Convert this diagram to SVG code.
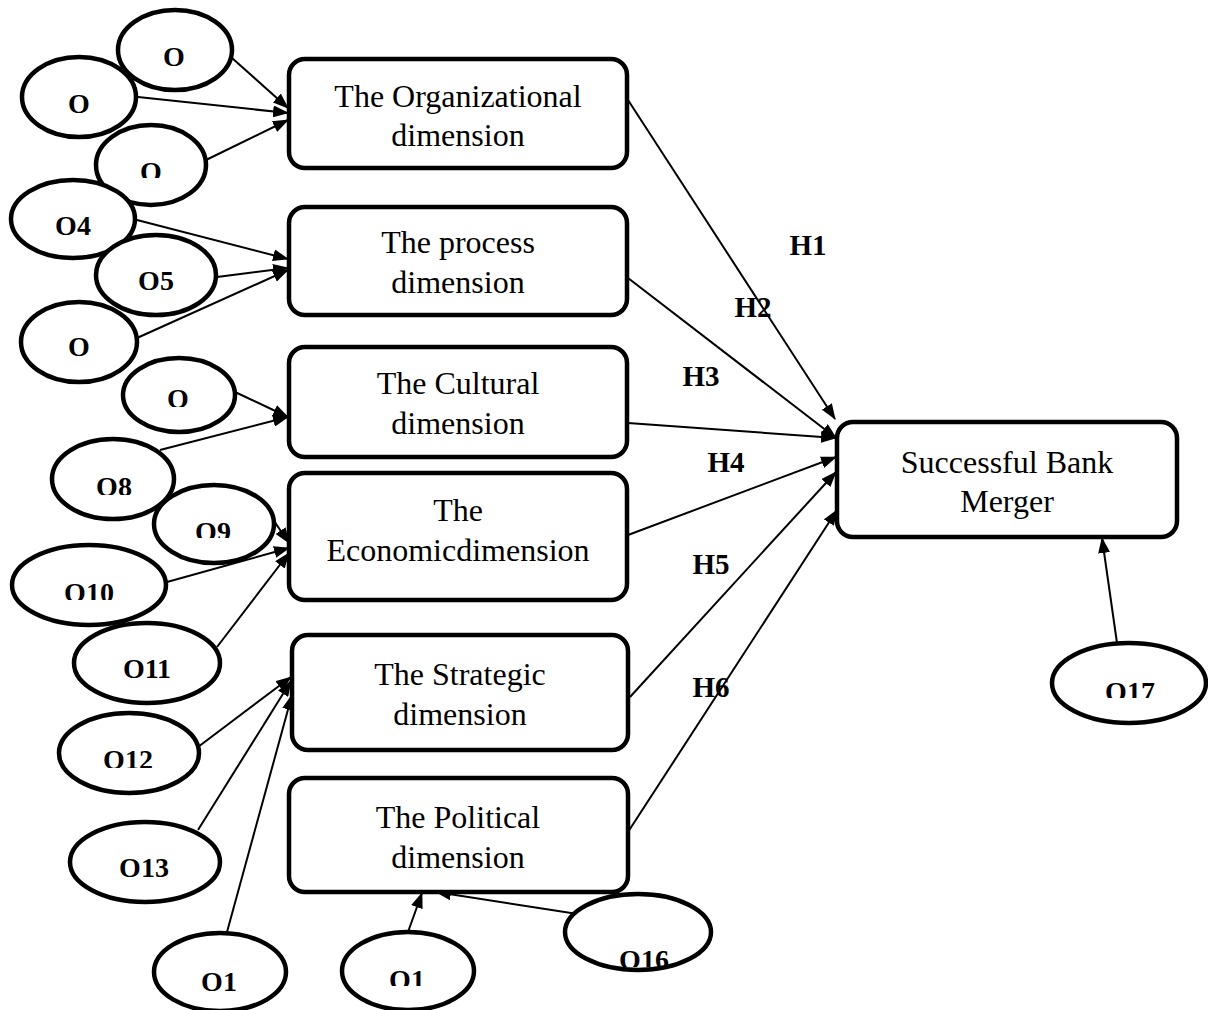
<svg xmlns="http://www.w3.org/2000/svg" width="1208" height="1010" viewBox="0 0 1208 1010">
<style>
.box{fill:#fff;stroke:#000;stroke-width:4.5}
.ell{fill:#fff;stroke:#000;stroke-width:4.5}
.bt{font-family:"Liberation Serif","Times New Roman",serif;font-size:32px;fill:#000;text-anchor:middle}
.et{font-family:"Liberation Serif","Times New Roman",serif;font-size:28px;font-weight:bold;fill:#000;text-anchor:middle}
.ht{font-family:"Liberation Serif","Times New Roman",serif;font-size:29px;font-weight:bold;fill:#000;text-anchor:middle}
.con line{stroke:#000;stroke-width:2;marker-end:url(#ah)}
</style>
<defs>
<marker id="ah" markerUnits="userSpaceOnUse" markerWidth="16" markerHeight="12" refX="15" refY="6" orient="auto">
<path d="M0,0 L16,6 L0,12 z" fill="#000"/>
</marker>
<clipPath id="k3" clipPathUnits="userSpaceOnUse"><rect x="0" y="0" width="1208" height="178"/></clipPath>
<clipPath id="k7" clipPathUnits="userSpaceOnUse"><rect x="0" y="0" width="1208" height="407"/></clipPath>
<clipPath id="k8" clipPathUnits="userSpaceOnUse"><rect x="0" y="0" width="1208" height="495"/></clipPath>
<clipPath id="k9" clipPathUnits="userSpaceOnUse"><rect x="0" y="0" width="1208" height="538"/></clipPath>
<clipPath id="k10" clipPathUnits="userSpaceOnUse"><rect x="0" y="0" width="1208" height="600"/></clipPath>
<clipPath id="k12" clipPathUnits="userSpaceOnUse"><rect x="0" y="0" width="1208" height="768"/></clipPath>
<clipPath id="k15" clipPathUnits="userSpaceOnUse"><rect x="0" y="0" width="1208" height="986"/></clipPath>
<clipPath id="k16" clipPathUnits="userSpaceOnUse"><rect x="0" y="0" width="1208" height="967"/></clipPath>
<clipPath id="k17" clipPathUnits="userSpaceOnUse"><rect x="0" y="0" width="1208" height="698"/></clipPath>
</defs>
<rect width="1208" height="1010" fill="#fff"/>

<g id="connectors" class="con">
<line x1="232" y1="58" x2="288" y2="108"/>
<line x1="138" y1="97" x2="288" y2="113"/>
<line x1="206" y1="160" x2="288" y2="120"/>
<line x1="137" y1="220" x2="288" y2="259"/>
<line x1="217" y1="277" x2="288" y2="268"/>
<line x1="137" y1="338" x2="288" y2="270"/>
<line x1="235" y1="392" x2="288" y2="417"/>
<line x1="160" y1="450" x2="288" y2="417"/>
<line x1="272" y1="518" x2="289" y2="543"/>
<line x1="167" y1="582" x2="289" y2="548"/>
<line x1="217" y1="647" x2="289" y2="553"/>
<line x1="198" y1="747" x2="291" y2="677"/>
<line x1="198" y1="830" x2="291" y2="681"/>
<line x1="227" y1="932" x2="292" y2="695"/>
<line x1="408" y1="932" x2="422" y2="893"/>
<line x1="597" y1="917" x2="436" y2="892"/>
<line x1="1117" y1="643" x2="1102" y2="538"/>
<line x1="628" y1="100" x2="835" y2="419"/>
<line x1="628" y1="278" x2="836" y2="438"/>
<line x1="628" y1="423" x2="836" y2="438"/>
<line x1="628" y1="535" x2="836" y2="457"/>
<line x1="630" y1="697" x2="836" y2="472"/>
<line x1="628" y1="832" x2="837" y2="510"/>
</g>

<g id="n-org"><rect class="box" x="289" y="59" width="338" height="109" rx="16"/><text class="bt" x="458" y="107">The Organizational</text><text class="bt" x="458" y="146">dimension</text></g>
<g id="n-process"><rect class="box" x="289" y="207" width="338" height="108" rx="16"/><text class="bt" x="458" y="253">The process</text><text class="bt" x="458" y="293">dimension</text></g>
<g id="n-cultural"><rect class="box" x="289" y="347" width="338" height="110" rx="16"/><text class="bt" x="458" y="394">The Cultural</text><text class="bt" x="458" y="434">dimension</text></g>
<g id="n-economic"><rect class="box" x="289" y="473" width="338" height="127" rx="16"/><text class="bt" x="458" y="521">The</text><text class="bt" x="458" y="561">Economicdimension</text></g>
<g id="n-strategic"><rect class="box" x="292" y="635" width="336" height="115" rx="16"/><text class="bt" x="460" y="685">The Strategic</text><text class="bt" x="460" y="725">dimension</text></g>
<g id="n-political"><rect class="box" x="289" y="778" width="339" height="114" rx="16"/><text class="bt" x="458" y="828">The Political</text><text class="bt" x="458" y="868">dimension</text></g>
<g id="n-merger"><rect class="box" x="837" y="422" width="340" height="115" rx="16"/><text class="bt" x="1007" y="473">Successful Bank</text><text class="bt" x="1007" y="512">Merger</text></g>

<g id="o1"><ellipse class="ell" cx="175" cy="50" rx="57" ry="40"/><text class="et" x="174" y="66">O</text></g>
<g id="o2"><ellipse class="ell" cx="79" cy="97" rx="57" ry="40"/><text class="et" x="79" y="113">O</text></g>
<g id="o3"><ellipse class="ell" cx="151" cy="165" rx="55" ry="40"/><text class="et" x="151" y="181" clip-path="url(#k3)">O</text></g>
<g id="o4"><ellipse class="ell" cx="73" cy="219" rx="62" ry="39"/><text class="et" x="73" y="235">O4</text></g>
<g id="o5"><ellipse class="ell" cx="156" cy="275" rx="60" ry="40"/><text class="et" x="156" y="290">O5</text></g>
<g id="o6"><ellipse class="ell" cx="79" cy="342" rx="58" ry="40"/><text class="et" x="79" y="356">O</text></g>
<g id="o7"><ellipse class="ell" cx="179" cy="395" rx="56" ry="37"/><text class="et" x="178" y="408" clip-path="url(#k7)">O</text></g>
<g id="o8"><ellipse class="ell" cx="113" cy="479" rx="61" ry="40"/><text class="et" x="114" y="496" clip-path="url(#k8)">O8</text></g>
<g id="o9"><ellipse class="ell" cx="214" cy="524" rx="60" ry="39"/><text class="et" x="213" y="541" clip-path="url(#k9)">O9</text></g>
<g id="o10"><ellipse class="ell" cx="89" cy="585" rx="77" ry="40"/><text class="et" x="89" y="602" clip-path="url(#k10)">O10</text></g>
<g id="o11"><ellipse class="ell" cx="147" cy="663" rx="73" ry="40"/><text class="et" x="147" y="678">O11</text></g>
<g id="o12"><ellipse class="ell" cx="129" cy="753" rx="70" ry="40"/><text class="et" x="128" y="769" clip-path="url(#k12)">O12</text></g>
<g id="o13"><ellipse class="ell" cx="145" cy="862" rx="75" ry="40"/><text class="et" x="144" y="877">O13</text></g>
<g id="o14"><ellipse class="ell" cx="220" cy="972" rx="66" ry="39"/><text class="et" x="219" y="991">O1</text></g>
<g id="o15"><ellipse class="ell" cx="408" cy="971" rx="66" ry="39"/><text class="et" x="407" y="989" clip-path="url(#k15)">O1</text></g>
<g id="o16"><ellipse class="ell" cx="638" cy="932" rx="73" ry="38"/><text class="et" x="644" y="969" clip-path="url(#k16)">O16</text></g>
<g id="o17"><ellipse class="ell" cx="1129" cy="683" rx="77" ry="40"/><text class="et" x="1130" y="701" clip-path="url(#k17)">O17</text></g>

<g id="labels">
<text class="ht" x="808" y="255">H1</text>
<text class="ht" x="753" y="317">H2</text>
<text class="ht" x="701" y="386">H3</text>
<text class="ht" x="726" y="472">H4</text>
<text class="ht" x="711" y="574">H5</text>
<text class="ht" x="711" y="697">H6</text>
</g>
</svg>
